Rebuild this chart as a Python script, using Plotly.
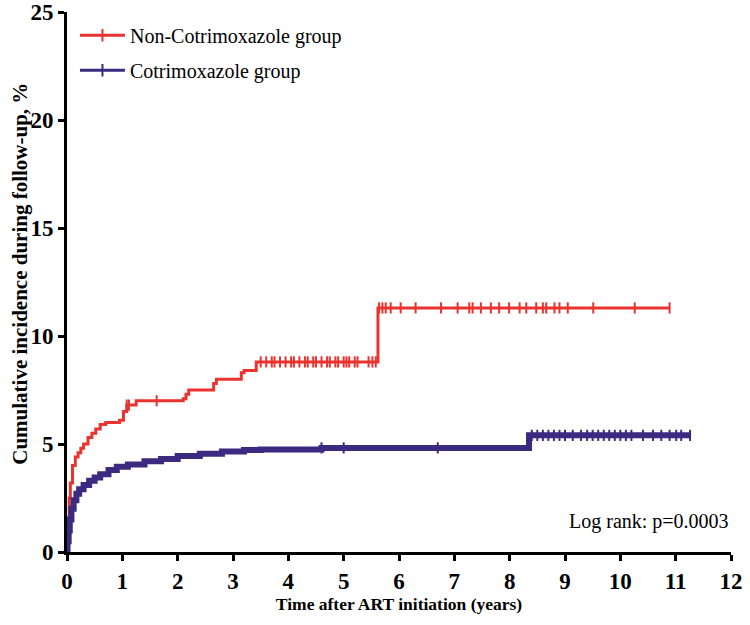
import numpy as np
import plotly.graph_objects as go

# step points of the cumulative incidence curves (years, %)
non_cotri_time = [0, 0.02, 0.04, 0.06, 0.1, 0.15, 0.2, 0.25, 0.3, 0.38, 0.45, 0.52,
                  0.6, 0.7, 0.95, 1.02, 1.08, 1.25, 2.1, 2.15, 2.2, 2.65, 2.7, 3.15,
                  3.2, 3.42, 5.62, 10.89]
non_cotri_inc = [0, 1.5, 2.5, 3.2, 4.0, 4.4, 4.6, 4.8, 5.0, 5.3, 5.5, 5.7,
                 5.9, 6.0, 6.1, 6.5, 6.8, 7.0, 7.1, 7.3, 7.5, 7.8, 8.0, 8.3,
                 8.4, 8.8, 11.3, 11.3]

cotri_time = [0, 0.01, 0.03, 0.05, 0.08, 0.12, 0.17, 0.22, 0.3, 0.4, 0.5, 0.6,
              0.75, 0.9, 1.1, 1.4, 1.7, 2.0, 2.4, 2.8, 3.2, 3.5, 4.6, 8.35, 11.27]
cotri_inc = [0, 0.5, 1.0, 1.5, 2.0, 2.4, 2.7, 2.9, 3.1, 3.3, 3.45, 3.6,
             3.8, 3.95, 4.05, 4.2, 4.3, 4.45, 4.55, 4.65, 4.72, 4.75, 4.82, 5.4, 5.4]

# censoring times
non_cotri_cens = [1.08, 1.12, 1.62, 3.5, 3.6, 3.7, 3.75, 3.85, 3.95, 4.05, 4.1, 4.2,
                  4.3, 4.35, 4.45, 4.5, 4.6, 4.7, 4.75, 4.85, 4.9, 5.0, 5.05, 5.1,
                  5.2, 5.25, 5.45, 5.52, 5.58, 5.64, 5.7, 5.76, 5.85, 6.03, 6.3,
                  6.76, 7.06, 7.27, 7.33, 7.48, 7.66, 7.81, 7.99, 8.18, 8.3, 8.48,
                  8.6, 8.66, 8.81, 8.9, 9.05, 9.51, 10.26, 10.89]
cotri_cens = [4.6, 5.0, 6.7, 8.4, 8.5, 8.6, 8.7, 8.8, 8.9, 9.0, 9.14, 9.29, 9.4,
              9.5, 9.6, 9.7, 9.8, 9.9, 10.0, 10.1, 10.2, 10.41, 10.59, 10.74,
              10.89, 11.01, 11.1, 11.26]

groups = ["Non-Cotrimoxazole group", "Cotrimoxazole group"]
colors = ["#e8332e", "#3b2a80"]
widths = [3, 6]

SERIF = "Liberation Serif, Times New Roman, serif"


def step_value(times, values, t):
    idx = np.searchsorted(times, t, side="right") - 1
    return np.asarray(values)[idx]


fig = go.Figure()
series = [
    (non_cotri_time, non_cotri_inc, non_cotri_cens),
    (cotri_time, cotri_inc, cotri_cens),
]
for name, color, w, (t, v, c) in zip(groups, colors, widths, series):
    fig.add_trace(go.Scatter(
        x=t, y=v, mode="lines", line=dict(color=color, width=w, shape="hv"),
        showlegend=False, hoverinfo="skip",
    ))
    fig.add_trace(go.Scatter(
        x=c, y=step_value(t, v, c), mode="markers", showlegend=False,
        marker=dict(symbol="line-ns", size=8, line=dict(color=color, width=2)),
    ))
    # legend entry: line with a tick
    fig.add_trace(go.Scatter(
        x=[None], y=[None], mode="lines+markers", name=name, legendgroup=name,
        line=dict(color=color, width=3),
        marker=dict(symbol="line-ns", size=9, line=dict(color=color, width=2)),
    ))

fig.add_annotation(
    x=1.0, y=1.39, xref="paper", yref="y", xanchor="right",
    text="Log rank: p=0.0003", showarrow=False,
    font=dict(family=SERIF, size=20, color="black"),
)
# y-axis title as an annotation so it can sit closer to the tick labels
fig.add_annotation(
    x=-0.071, y=0.515, xref="paper", yref="paper", textangle=-90,
    xanchor="center", yanchor="middle",
    text="Cumulative incidence during follow-up, %", showarrow=False,
    font=dict(family=SERIF, size=21, color="black", weight="bold"),
)

axis_common = dict(
    showgrid=False, zeroline=False, showline=True, linecolor="black",
    linewidth=3, ticks="outside", ticklen=6, tickwidth=2.5, tickcolor="black",
    automargin=False,
    tickfont=dict(family=SERIF, size=23, color="black", weight="bold"),
)
fig.update_layout(
    width=750, height=625,
    plot_bgcolor="white", paper_bgcolor="white",
    margin=dict(l=67, r=19, t=12, b=73),
    xaxis=dict(range=[0, 12], dtick=1, **axis_common,
               title=dict(text="Time after ART initiation (years)", standoff=2,
                          font=dict(family=SERIF, size=17.5, color="black", weight="bold"))),
    yaxis=dict(range=[0, 25], dtick=5, **axis_common),
    legend=dict(x=0.012, y=0.993, xanchor="left", yanchor="top",
                font=dict(family=SERIF, size=20, color="black"),
                bgcolor="rgba(0,0,0,0)", tracegroupgap=6, itemwidth=45),
    showlegend=True,
)

fig.write_html("out.html", config={"displayModeBar": False},
               post_script="document.body.style.margin='0';")
